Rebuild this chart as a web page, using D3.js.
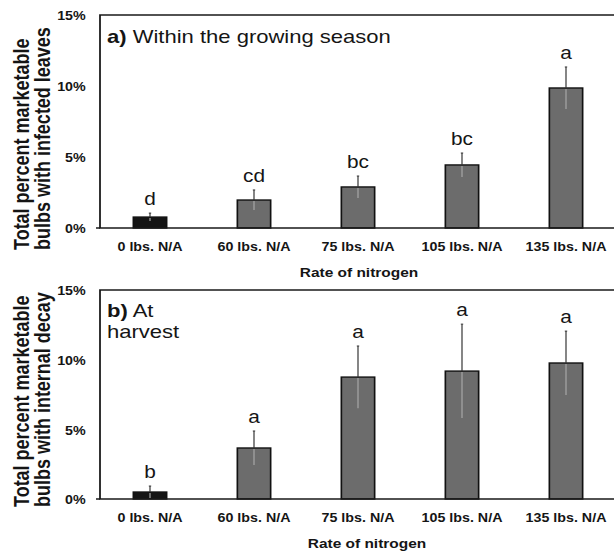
<!DOCTYPE html>
<html>
<head>
<meta charset="utf-8">
<script src="https://cdn.jsdelivr.net/npm/d3@7"></script>
<style>
	body { margin: 0; background: #fff; }
	svg { display: block; font-family: "Liberation Sans", Arial, sans-serif; }
</style>
</head>
<body>
<svg id="chart-svg" width="614" height="554"></svg>
<script>
// Bar data (percent of bulbs)
const CATEGORIES = ['0 lbs. N/A', '60 lbs. N/A', '75 lbs. N/A', '105 lbs. N/A', '135 lbs. N/A'];
const LEAF_MEANS = [0.77, 1.97, 2.89, 4.44, 9.86];
const LEAF_ERRORS = [0.28, 0.71, 0.77, 0.84, 1.48];
const LEAF_LETTERS = ['d', 'cd', 'bc', 'bc', 'a'];
const DECAY_MEANS = [0.5, 3.66, 8.75, 9.18, 9.76];
const DECAY_ERRORS = [0.43, 1.22, 2.23, 3.37, 2.29];
const DECAY_LETTERS = ['b', 'a', 'a', 'a', 'a'];
const Y_TICKS = [0, 5, 10, 15];
const X_TITLE = 'Rate of nitrogen';

// the scan is stretched sideways, so draw everything in a squeezed frame and scale it back
const SX = 1.19;
const px = (v) => v / SX;

let svg = d3.select('#chart-svg');
let root = svg.append('g').attr('transform', `scale(${SX},1)`);

const panels = [
	{
		top: 15, bottom: 228,
		means: LEAF_MEANS, errors: LEAF_ERRORS, letters: LEAF_LETTERS,
		title: [['a)', ' Within the growing season']], titleY: [43],
		yTitle: ['Total percent marketable', 'bulbs with infected leaves'], yTitleStart: 250,
		xTitleX: 359
	},
	{
		top: 290, bottom: 499,
		means: DECAY_MEANS, errors: DECAY_ERRORS, letters: DECAY_LETTERS,
		title: [['b)', ' At'], ['', 'harvest']], titleY: [317, 338],
		yTitle: ['Total percent marketable', 'bulbs with internal decay'], yTitleStart: 507,
		xTitleX: 367
	}
];

panels.forEach((p) => drawPanel(root, p));

function drawPanel(g, p) {
	const left = px(100);
	const right = px(640);
	const x = d3.scaleBand(CATEGORIES, [px(98), px(618)]).paddingInner(0.68).paddingOuter(0.34);
	const y = d3.scaleLinear([0, 15], [p.bottom, p.top]);
	const rows = CATEGORIES.map((c, i) => ({ cat: c, mean: p.means[i], err: p.errors[i], letter: p.letters[i], i: i }));

	// bars
	g.append('g')
		.selectAll('rect')
		.data(rows)
		.enter()
		.append('rect')
		.attr('x', (d) => x(d.cat))
		.attr('y', (d) => y(d.mean))
		.attr('width', x.bandwidth())
		.attr('height', (d) => y(0) - y(d.mean))
		.attr('fill', (d) => (d.i == 0 ? '#141414' : '#6c6c6c'))
		.attr('stroke', '#111')
		.attr('stroke-width', 1.4);

	// error bars: dark above the bar, lighter where they cross the fill
	let errG = g.append('g');
	errG.selectAll('line.up')
		.data(rows)
		.enter()
		.append('line')
		.attr('class', 'up')
		.attr('x1', (d) => x(d.cat) + x.bandwidth() / 2)
		.attr('x2', (d) => x(d.cat) + x.bandwidth() / 2)
		.attr('y1', (d) => y(d.mean))
		.attr('y2', (d) => y(d.mean + d.err))
		.attr('stroke', '#333')
		.attr('stroke-width', 1);
	errG.selectAll('line.down')
		.data(rows)
		.enter()
		.append('line')
		.attr('class', 'down')
		.attr('x1', (d) => x(d.cat) + x.bandwidth() / 2)
		.attr('x2', (d) => x(d.cat) + x.bandwidth() / 2)
		.attr('y1', (d) => y(d.mean) + 1)
		.attr('y2', (d) => Math.min(y(Math.max(d.mean - d.err, 0)), y(0) - 1))
		.attr('stroke', '#a8a8a8')
		.attr('stroke-width', 1);
	errG.selectAll('line.cap')
		.data(rows)
		.enter()
		.append('line')
		.attr('class', 'cap')
		.attr('x1', (d) => x(d.cat) + x.bandwidth() / 2 - 1)
		.attr('x2', (d) => x(d.cat) + x.bandwidth() / 2 + 1)
		.attr('y1', (d) => y(d.mean + d.err))
		.attr('y2', (d) => y(d.mean + d.err))
		.attr('stroke', '#333')
		.attr('stroke-width', 1);

	// significance letters
	g.append('g')
		.selectAll('text')
		.data(rows)
		.enter()
		.append('text')
		.attr('x', (d) => x(d.cat) + x.bandwidth() / 2)
		.attr('y', (d) => y(d.mean + d.err) - 8)
		.attr('text-anchor', 'middle')
		.attr('font-size', 17.5)
		.attr('fill', '#151515')
		.text((d) => d.letter);

	// frame: top, left and baseline
	g.append('path')
		.attr('d', `M${right},${p.top} H${left} V${y(0)} H${right}`)
		.attr('fill', 'none')
		.attr('stroke', '#1a1a1a')
		.attr('stroke-width', 1.5);
	g.append('line')
		.attr('x1', px(96)).attr('x2', left)
		.attr('y1', y(0)).attr('y2', y(0))
		.attr('stroke', '#1a1a1a')
		.attr('stroke-width', 1.5);

	// y tick labels
	let yAxis = g.append('g')
		.attr('transform', `translate(${left},0)`)
		.call(d3.axisLeft(y).tickValues(Y_TICKS).tickFormat((d) => d + '%').tickSize(0).tickPadding(12));
	yAxis.select('.domain').remove();
	yAxis.selectAll('text')
		.attr('font-family', 'Liberation Sans, Arial, sans-serif')
		.attr('font-size', 12)
		.attr('font-weight', 'bold')
		.attr('fill', '#151515')
		.attr('dy', '0.4em');

	// category labels
	let xAxis = g.append('g')
		.attr('transform', `translate(0,${y(0)})`)
		.call(d3.axisBottom(x).tickSize(0).tickPadding(14.5));
	xAxis.select('.domain').remove();
	xAxis.selectAll('text')
		.attr('font-family', 'Liberation Sans, Arial, sans-serif')
		.attr('font-size', 12)
		.attr('font-weight', 'bold')
		.attr('fill', '#151515');

	g.append('text')
		.attr('x', px(p.xTitleX))
		.attr('y', y(0) + 49)
		.attr('text-anchor', 'middle')
		.attr('font-size', 13)
		.attr('font-weight', 'bold')
		.attr('fill', '#151515')
		.text(X_TITLE);

	// rotated y title, two lines starting at the bottom
	[px(29), px(50)].forEach((bx, i) => {
		g.append('text')
			.attr('transform', `translate(${bx},${p.yTitleStart}) rotate(-90)`)
			.attr('font-size', 18)
			.attr('font-weight', 'bold')
			.attr('fill', '#151515')
			.text(p.yTitle[i]);
	});

	// panel title
	p.title.forEach((parts, i) => {
		let t = g.append('text')
			.attr('x', px(107))
			.attr('y', p.titleY[i])
			.attr('font-size', 18.5)
			.attr('fill', '#151515');
		if (parts[0]) t.append('tspan').attr('font-weight', 'bold').text(parts[0]);
		t.append('tspan').text(parts[1]);
	});
}
</script>
</body>
</html>
